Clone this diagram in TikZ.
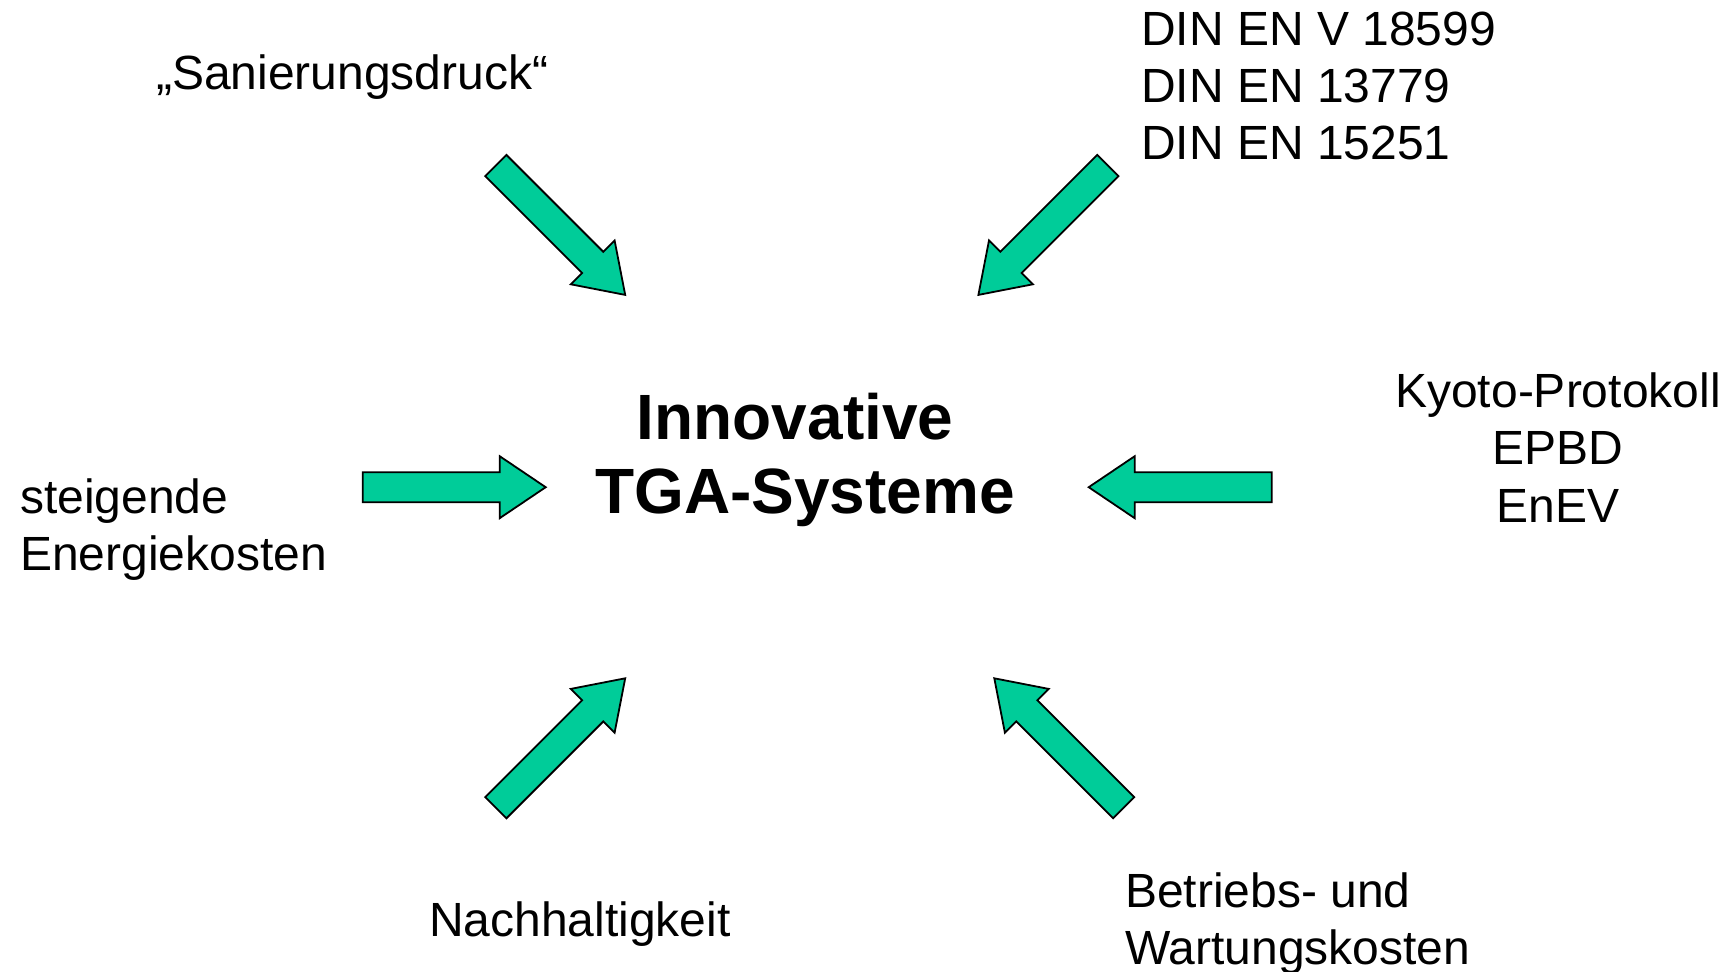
\documentclass[tikz,border=0pt]{standalone}
\usepackage{fontspec}
\setmainfont{Liberation Sans}
\definecolor{arrgreen}{HTML}{00CC99}
\tikzset{
  fatarr/.style={fill=arrgreen,draw=black,line width=1.8pt,line join=miter},
  lbl/.style={inner sep=0pt,font=\fontsize{48}{57}\selectfont},
  ttl/.style={inner sep=0pt,align=center,font=\fontsize{64}{74}\selectfont\bfseries}
}
\newcommand\fatarrow[2]{\draw[fatarr,shift={#1},rotate=#2] (0,-15) -- (137,-15) -- (137,-31) -- (183,0) -- (137,31) -- (137,15) -- (0,15) -- cycle;}
\begin{document}
\begin{tikzpicture}[x=1pt,y=-1pt]
\useasboundingbox (0,0) rectangle (1733,972);
% texts (base anchor = baseline of last line)
\node[lbl,anchor=base west] (sanier) at (156,89) {„Sanierungsdruck“};
\node[lbl,anchor=base west,align=left,font=\fontsize{48}{57}\selectfont] (din) at (1141,159) {DIN EN V 18599\\DIN EN 13779\\DIN EN 15251};
\node[lbl,anchor=base,align=center,font=\fontsize{48}{57.5}\selectfont] (kyoto) at (1558,522) {Kyoto-Protokoll\\EPBD\\EnEV};
\node[lbl,anchor=base west,align=left,font=\fontsize{48}{56.5}\selectfont] (steig) at (20,570) {steigende\\Energiekosten};
\node[lbl,anchor=base west] (nach) at (429,936) {Nachhaltigkeit};
\node[lbl,anchor=base west,align=left] (betrieb) at (1125,964) {Betriebs- und\\Wartungskosten};
\node[ttl,anchor=base] (title) at (805,513.5) {Innovative\hspace*{20pt}\\TGA-Systeme};
% arrows
\fatarrow{(495.8,165.5)}{-45}
\fatarrow{(1107.8,165.5)}{-135}
\fatarrow{(362.7,487.2)}{0}
\fatarrow{(1271.7,487.2)}{180}
\fatarrow{(495.8,807.7)}{45}
\fatarrow{(1123.7,807.7)}{135}
\end{tikzpicture}
\end{document}
